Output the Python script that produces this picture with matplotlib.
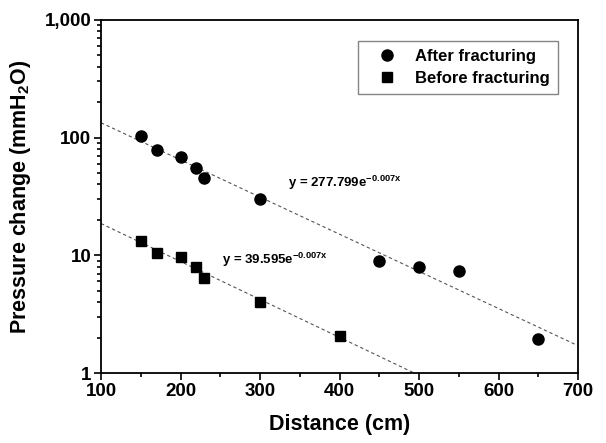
import numpy as np
import matplotlib
matplotlib.use("Agg")
import matplotlib.pyplot as plt
from matplotlib.ticker import FixedLocator, MultipleLocator, FuncFormatter, LogLocator, NullFormatter

plt.rcParams['font.family'] = ['Liberation Sans', 'DejaVu Sans']
plt.rcParams['font.weight'] = 'bold'
plt.rcParams['mathtext.fontset'] = 'custom'
plt.rcParams['mathtext.rm'] = 'Liberation Sans:bold'
plt.rcParams['mathtext.bf'] = 'Liberation Sans:bold'
plt.rcParams['mathtext.it'] = 'Liberation Sans:bold:italic'

# data
after_x = [150, 170, 200, 220, 230, 300, 450, 500, 550, 650]
after_y = [103, 78.5, 68, 55.5, 45, 30, 8.9, 7.9, 7.4, 1.96]
before_x = [150, 170, 200, 220, 230, 300, 400]
before_y = [13.3, 10.4, 9.75, 8.0, 6.4, 4.05, 2.07]

after_label = "After fracturing"
before_label = "Before fracturing"
after_eq = r"y = 277.799e$^{\mathrm{-0.007x}}$"
before_eq = r"y = 39.595e$^{\mathrm{-0.007x}}$"

fig = plt.figure(figsize=(6.06, 4.43), dpi=100)
ax = fig.add_axes([0.1667, 0.158, 0.7872, 0.797])

# exponential fits (fit on log values)
xfit = np.linspace(100, 700, 200)
for xs, ys in [(after_x, after_y), (before_x, before_y)]:
    k, b = np.polyfit(xs, np.log(ys), 1)
    ax.plot(xfit, np.exp(b) * np.exp(k * xfit), linestyle=(0, (3, 2.5)),
            color='#555555', linewidth=0.8, zorder=1)

ax.plot(after_x, after_y, 'o', color='black', markersize=8, label=after_label, zorder=3)
ax.plot(before_x, before_y, 's', color='black', markersize=7, label=before_label, zorder=3)

ax.text(335, 41, after_eq, fontsize=9.5, fontweight='bold', va='center')
ax.text(252, 9.1, before_eq, fontsize=9.5, fontweight='bold', va='center')

ax.set_yscale('log')
ax.set_xlim(100, 700)
ax.set_ylim(1, 1000)

ax.xaxis.set_major_locator(MultipleLocator(100))
ax.xaxis.set_minor_locator(MultipleLocator(50))
ax.yaxis.set_major_locator(FixedLocator([1, 10, 100, 1000]))
ax.yaxis.set_minor_locator(LogLocator(base=10, subs=np.arange(2, 10)))
ax.yaxis.set_minor_formatter(NullFormatter())
ax.yaxis.set_major_formatter(FuncFormatter(lambda v, p: "{:,.0f}".format(v)))

ax.tick_params(which='both', direction='out', top=False, right=False, width=1.2)
ax.tick_params(which='major', length=5, labelsize=13.5, pad=2)
ax.tick_params(which='minor', length=3)
for lab in ax.get_xticklabels() + ax.get_yticklabels():
    lab.set_fontweight('bold')
for sp in ax.spines.values():
    sp.set_linewidth(1.3)

ax.set_xlabel("Distance (cm)", fontsize=15.5, fontweight='bold', labelpad=10)
ax.set_ylabel(r"Pressure change (mmH$_2$O)", fontsize=15.5, fontweight='bold', labelpad=8)

leg = ax.legend(loc='upper right', bbox_to_anchor=(0.957, 0.94), prop={'weight': 'bold', 'size': 12},
                fancybox=False, frameon=True, handlelength=2.6, handletextpad=0.4,
                borderpad=0.45, labelspacing=0.45, borderaxespad=0)
leg.get_frame().set_edgecolor('#666666')
leg.get_frame().set_linewidth(1.0)

fig.savefig("out.png", dpi=100)
